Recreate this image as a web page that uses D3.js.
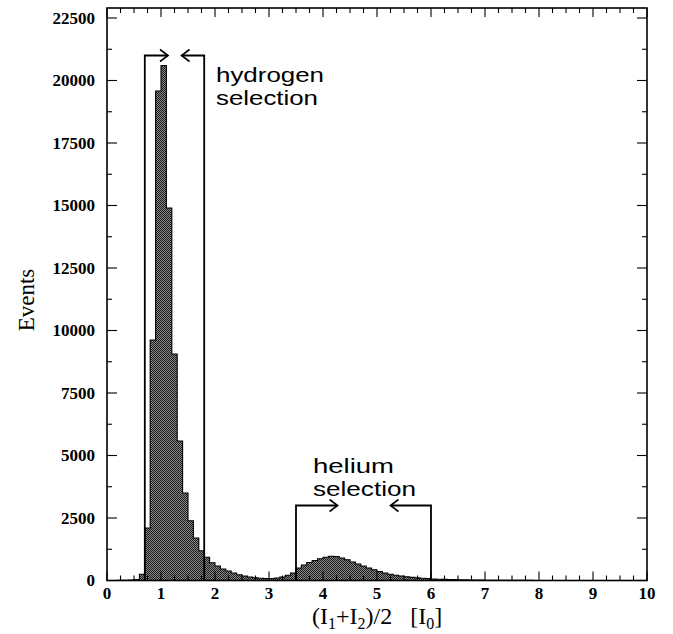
<!DOCTYPE html>
<html><head><meta charset="utf-8">
<script src="https://cdn.jsdelivr.net/npm/d3@7"></script>
<style>body{margin:0;background:#fff}</style></head>
<body><svg id="c" width="673" height="634" xmlns="http://www.w3.org/2000/svg"></svg>
<script>
// ---- data ----
const binStart = [
 0.0,0.1,0.2,0.3,0.4,0.5,0.6,0.7,0.8,0.9,
 1.0,1.1,1.2,1.3,1.4,1.5,1.6,1.7,1.8,1.9,
 2.0,2.1,2.2,2.3,2.4,2.5,2.6,2.7,2.8,2.9,
 3.0,3.1,3.2,3.3,3.4,3.5,3.6,3.7,3.8,3.9,
 4.0,4.1,4.2,4.3,4.4,4.5,4.6,4.7,4.8,4.9,
 5.0,5.1,5.2,5.3,5.4,5.5,5.6,5.7,5.8,5.9,
 6.0,6.1,6.2,6.3,6.4,6.5,6.6,6.7,6.8,6.9,
 7.0,7.1,7.2,7.3,7.4,7.5,7.6,7.7,7.8,7.9,
 8.0,8.1,8.2,8.3,8.4,8.5,8.6,8.7,8.8,8.9,
 9.0,9.1,9.2,9.3,9.4,9.5,9.6,9.7,9.8,9.9];
const counts = [
 0,0,5,10,20,40,250,2100,9620,19580,
 20600,14900,9060,5580,3500,2390,1700,1190,930,710,
 580,460,380,300,230,180,140,110,90,80,
 80,100,140,210,300,500,620,720,800,870,
 930,970,960,900,830,740,660,580,500,430,
 360,300,250,210,180,150,125,105,90,75,
 60,50,45,40,35,30,25,20,18,15,
 12,10,8,7,6,5,5,4,4,3,
 3,3,2,2,2,2,1,1,1,1,
 1,1,1,0,0,0,0,0,0,0];
const binWidth = 0.1;
const xTickLabels = [0,1,2,3,4,5,6,7,8,9,10];
const yTickLabels = [0,2500,5000,7500,10000,12500,15000,17500,20000,22500];
const hydrogenCut = [0.7, 1.8];
const hydrogenArrowTips = [1.13, 1.38];
const hydrogenLevel = 21000;
const heliumCut = [3.5, 6.0];
const heliumArrowTips = [4.27, 5.25];
const heliumLevel = 3000;
const hydrogenText = ["hydrogen", "selection"];
const heliumText = ["helium", "selection"];

// ---- layout ----
const svg = d3.select("#c");
const L = 107, R = 647, T = 8, B = 580.5;
const x = d3.scaleLinear().domain([0, 10]).range([L, R]);
const y = d3.scaleLinear().domain([0, 22900]).range([B, T]);

// pattern
const defs = svg.append("defs");
const pat = defs.append("pattern").attr("id","hatch").attr("patternUnits","userSpaceOnUse")
  .attr("width",2).attr("height",2);
pat.append("rect").attr("width",2).attr("height",2).attr("fill","#8a8a8a");
pat.append("rect").attr("x",0).attr("y",0).attr("width",1).attr("height",1).attr("fill","#1a1a1a");
pat.append("rect").attr("x",1).attr("y",1).attr("width",1).attr("height",1).attr("fill","#1a1a1a");

const bins = binStart.map((b,i)=>({x0:b, x1:b+binWidth, v:counts[i]}));

// bars (one filled area so the pattern stays continuous)
const pts = bins.map(d=>[d.x0,d.v]).concat([[bins[bins.length-1].x1, 0]]);
const area = d3.area().x(d=>x(d[0])).y0(y(0)).y1(d=>y(d[1])).curve(d3.curveStepAfter);
svg.append("path").attr("d", area(pts)).attr("fill","url(#hatch)");

// outline
const line = d3.line().x(d=>x(d[0])).y(d=>y(d[1])).curve(d3.curveStepAfter);
svg.append("path").attr("d", line(pts)).attr("fill","none").attr("stroke","#000").attr("stroke-width",1.1);

// frame
svg.append("rect").attr("x",L).attr("y",T).attr("width",R-L).attr("height",B-T)
  .attr("fill","none").attr("stroke","#000").attr("stroke-width",1.6);

// ticks
const xMinor = d3.range(0, 10.001, 0.25);
const yMinor = d3.range(0, 22900, 1250);
const tg = svg.append("g").attr("stroke","#000").attr("stroke-width",1.1);
xMinor.forEach(v=>{
  const major = Math.abs(v - Math.round(v)) < 1e-6;
  const len = major ? 9 : 5;
  tg.append("line").attr("x1",x(v)).attr("x2",x(v)).attr("y1",B).attr("y2",B-len);
  tg.append("line").attr("x1",x(v)).attr("x2",x(v)).attr("y1",T).attr("y2",T+len);
});
yMinor.forEach(v=>{
  const major = v % 2500 === 0;
  const len = major ? 10 : 5;
  tg.append("line").attr("x1",L).attr("x2",L+len).attr("y1",y(v)).attr("y2",y(v));
  tg.append("line").attr("x1",R).attr("x2",R-len).attr("y1",y(v)).attr("y2",y(v));
});

// tick labels
svg.append("g").selectAll("text").data(xTickLabels).join("text")
  .attr("x", d=>x(d)).attr("y", 599).attr("text-anchor","middle")
  .attr("font-family","Liberation Serif, serif").attr("font-weight","bold").attr("font-size",17)
  .text(d=>d);
svg.append("g").selectAll("text").data(yTickLabels).join("text")
  .attr("x", 95).attr("y", d=>y(d)).attr("dy","0.35em").attr("text-anchor","end")
  .attr("font-family","Liberation Serif, serif").attr("font-weight","bold").attr("font-size",17)
  .text(d=>d);

// axis titles
svg.append("text").attr("transform","translate(34,300) rotate(-90)").attr("text-anchor","middle")
  .attr("font-family","Liberation Serif, serif").attr("font-size",23).text("Events");
const xt = svg.append("text").attr("x",312).attr("y",624)
  .attr("font-family","Liberation Serif, serif").attr("font-size",24);
xt.append("tspan").text("(I");
xt.append("tspan").attr("font-size",16).attr("dy",5).text("1");
xt.append("tspan").attr("dy",-5).text("+I");
xt.append("tspan").attr("font-size",16).attr("dy",5).text("2");
xt.append("tspan").attr("dy",-5).text(")/2\u00a0\u00a0\u00a0[I");
xt.append("tspan").attr("font-size",16).attr("dy",5).text("0");
xt.append("tspan").attr("dy",-5).text("]");

// selection markers
function selection(cut, tips, level) {
  const g = svg.append("g").attr("fill","none").attr("stroke","#000").attr("stroke-width",1.8);
  g.append("path").attr("d", `M${x(cut[0])},${y(0)}V${y(level)}H${x(tips[0])}`);
  g.append("path").attr("d", `M${x(tips[0])-8},${y(level)-6}L${x(tips[0])},${y(level)}L${x(tips[0])-8},${y(level)+6}`)
    .attr("stroke-width",1.6);
  g.append("path").attr("d", `M${x(cut[1])},${y(0)}V${y(level)}H${x(tips[1])}`);
  g.append("path").attr("d", `M${x(tips[1])+8},${y(level)-6}L${x(tips[1])},${y(level)}L${x(tips[1])+8},${y(level)+6}`)
    .attr("stroke-width",1.6);
}
selection(hydrogenCut, hydrogenArrowTips, hydrogenLevel);
selection(heliumCut, heliumArrowTips, heliumLevel);

function label(lines, x0, y0, widths) {
  lines.forEach((t,i)=>{
    svg.append("text").attr("x",x0).attr("y",y0+i*23)
      .attr("font-family","Liberation Sans, Arial, sans-serif").attr("font-size",21)
      .attr("textLength",widths[i]).attr("lengthAdjust","spacingAndGlyphs").text(t);
  });
}
label(hydrogenText, 216, 82, [108, 102]);
label(heliumText, 313, 473, [81, 103]);
</script>
</body></html>
